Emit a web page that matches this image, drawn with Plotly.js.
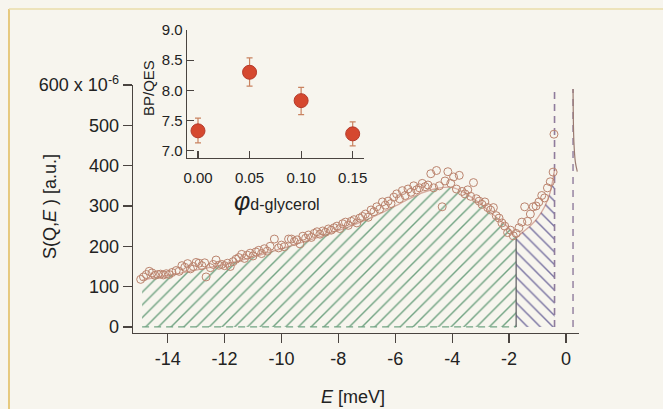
<!DOCTYPE html>
<html>
<head>
<meta charset="utf-8">
<script src="https://cdn.plot.ly/plotly-3.0.1.min.js"></script>
<style>
html,body{margin:0;padding:0;background:#f7f5ee;}
#chart{width:663px;height:409px;}
</style>
</head>
<body>
<div id="chart"></div>
<script>
// ---- main panel: measured S(Q,E) points ----
const dataE = [-14.95,-14.85,-14.75,-14.65,-14.55,-14.45,-14.35,-14.25,-14.15,-14.05,-13.95,-13.85,-13.7,-13.6,-13.5,-13.4,-13.3,-13.2,-13.1,-13.0,-12.9,-12.8,-12.7,-12.65,-12.5,-12.4,-12.3,-12.2,-12.1,-12.0,-11.9,-11.8,-11.7,-11.6,-11.5,-11.4,-11.3,-11.2,-11.1,-11.0,-10.9,-10.8,-10.7,-10.6,-10.5,-10.4,-10.25,-10.1,-10.0,-9.9,-9.75,-9.65,-9.55,-9.45,-9.35,-9.25,-9.15,-9.05,-8.95,-8.85,-8.75,-8.65,-8.55,-8.45,-8.35,-8.25,-8.15,-8.05,-7.95,-7.85,-7.75,-7.65,-7.55,-7.45,-7.35,-7.25,-7.15,-7.05,-6.95,-6.85,-6.75,-6.65,-6.55,-6.45,-6.35,-6.25,-6.15,-6.05,-5.95,-5.85,-5.75,-5.65,-5.55,-5.45,-5.35,-5.25,-5.15,-5.05,-4.95,-4.85,-4.75,-4.65,-4.55,-4.45,-4.35,-4.25,-4.15,-4.05,-3.95,-3.85,-3.75,-3.65,-3.55,-3.45,-3.35,-3.25,-3.15,-3.05,-2.95,-2.85,-2.75,-2.65,-2.55,-2.45,-2.35,-2.25,-2.15,-2.05,-1.95,-1.85,-1.75,-1.65,-1.55,-1.45,-1.35,-1.25,-1.15,-1.05,-0.95,-0.85,-0.75,-0.65,-0.55,-0.45,-0.42];
const dataS = [118,124,130,138,134,128,130,131,129,132,130,135,140,138,152,148,157,144,150,160,158,152,159,124,147,155,166,153,155,152,158,150,162,168,172,180,170,178,183,176,186,190,182,194,188,200,218,196,203,199,218,218,212,216,206,225,220,228,222,232,236,230,238,235,243,240,246,250,244,256,260,252,262,266,258,270,274,280,272,290,286,298,292,310,302,312,306,322,330,318,338,326,342,334,350,340,345,356,348,352,380,345,388,350,298,362,385,356,372,342,376,336,330,340,324,358,318,312,304,310,296,290,296,276,270,258,250,234,240,226,232,246,260,298,262,280,298,300,310,326,320,345,360,384,478];

// ---- fitted curve (top of the hatched areas) ----
const fitGreenE = [-14.9,-14.5,-14,-13.5,-13,-12.5,-12,-11.5,-11,-10.5,-10,-9.5,-9,-8.5,-8,-7.5,-7,-6.5,-6,-5.5,-5,-4.5,-4,-3.5,-3,-2.5,-2,-1.75];
const fitGreenS = [116,122,128,134,141,148,155,164,173,184,194,205,216,227,239,252,266,282,300,318,334,344,346,330,305,275,245,223];
const fitBlueE = [-1.75,-1.5,-1.25,-1.0,-0.75,-0.55,-0.4];
const fitBlueS = [223,236,251,270,298,335,390];

// ---- elastic-line markers ----
const elasticLeftE = [-0.4,-0.4];
const elasticLeftS = [0,590];
const elasticRightE = [0.25,0.25];
const elasticRightS = [0,590];
const elasticTailE = [0.25,0.26,0.28,0.33,0.40];
const elasticTailS = [590,520,460,410,385];

// ---- inset data ----
const phiVals = [0.00,0.05,0.10,0.15];
const ratioVals = [7.33,8.30,7.83,7.28];
const errPlus = [0.21,0.24,0.22,0.20];
const errMinus = [0.20,0.23,0.23,0.20];

const mainYTicks = [0,100,200,300,400,500,600];
const mainYText = ['0','100','200','300','400','500','600 x 10<sup>-6</sup>'];
const mainXTicks = [-14,-12,-10,-8,-6,-4,-2,0];
const mainXText = ['-14','-12','-10','-8','-6','-4','-2','0'];
const insetXTicks = [0,0.05,0.10,0.15];
const insetXText = ['0.00','0.05','0.10','0.15'];
const insetYTicks = [7.0,7.5,8.0,8.5,9.0];
const insetYText = ['7.0','7.5','8.0','8.5','9.0'];

const FONT = 'Liberation Sans, Arial, sans-serif';
const axisCol = '#4a4440';

const traces = [
  { x: fitGreenE, y: fitGreenS, type:'scatter', mode:'lines', fill:'tozeroy',
    line:{color:'rgba(0,0,0,0)', width:0},
    fillcolor:'rgba(0,0,0,0)',
    fillpattern:{shape:'/', fgcolor:'#72a483', bgcolor:'rgba(0,0,0,0)', size:9, solidity:0.16},
    xaxis:'x', yaxis:'y', hoverinfo:'skip', showlegend:false },
  { x: fitBlueE, y: fitBlueS, type:'scatter', mode:'lines', fill:'tozeroy',
    line:{color:'rgba(0,0,0,0)', width:0},
    fillcolor:'rgba(0,0,0,0)',
    fillpattern:{shape:'\\', fgcolor:'#7a74a2', bgcolor:'rgba(0,0,0,0)', size:9, solidity:0.16},
    xaxis:'x', yaxis:'y', hoverinfo:'skip', showlegend:false },
  // dashed green baseline
  { x:[fitGreenE[0], -1.75], y:[0,0], type:'scatter', mode:'lines',
    line:{color:'#72a483', width:1.2, dash:'7px,5px'}, xaxis:'x', yaxis:'y', showlegend:false },
  // solid boundary between regions
  { x:[-1.75,-1.75], y:[0,223], type:'scatter', mode:'lines',
    line:{color:'#5a5a60', width:1.2}, xaxis:'x', yaxis:'y', showlegend:false },
  // left elastic dashed line
  { x: elasticLeftE, y: elasticLeftS, type:'scatter', mode:'lines',
    line:{color:'#8f7c9c', width:1.6, dash:'7px,5px'}, xaxis:'x', yaxis:'y', showlegend:false },
  // right elastic dashed line
  { x: elasticRightE, y: elasticRightS, type:'scatter', mode:'lines',
    line:{color:'#8f7c9c', width:1.4, dash:'7px,6px'}, xaxis:'x', yaxis:'y', showlegend:false },
  { x: elasticTailE, y: elasticTailS, type:'scatter', mode:'lines', line:{shape:'spline', color:'#9a7a70', width:1.2},
    xaxis:'x', yaxis:'y', showlegend:false },
  // fit line
  { x: fitGreenE.concat(fitBlueE.slice(1)), y: fitGreenS.concat(fitBlueS.slice(1)), type:'scatter', mode:'lines',
    line:{color:'rgba(175,85,65,0.45)', width:1.4, shape:'spline'}, xaxis:'x', yaxis:'y', showlegend:false },
  // data points
  { x: dataE, y: dataS, type:'scatter', mode:'markers',
    marker:{symbol:'circle-open', size:8, color:'#bb846e', line:{width:1, color:'#bb846e'}},
    xaxis:'x', yaxis:'y', showlegend:false },
  // inset
  { x: phiVals, y: ratioVals, type:'scatter', mode:'markers',
    error_y:{type:'data', symmetric:false, array:errPlus, arrayminus:errMinus, color:'#c98360', thickness:1.2, width:3},
    marker:{size:14, color:'#d5482f', line:{width:1, color:'#b5392a'}},
    xaxis:'x2', yaxis:'y2', showlegend:false }
];

const px2x = p => (p-133)/446;
const px2y = p => (333-p)/313;

const layout = {
  width:663, height:409,
  margin:{l:133, r:84, t:20, b:76},
  paper_bgcolor:'#f7f5ee', plot_bgcolor:'rgba(0,0,0,0)',
  font:{family:FONT, color:'#222', size:17},
  showlegend:false,
  xaxis:{domain:[0,1], anchor:'y', range:[-15.22,0.46], tickvals:mainXTicks, ticktext:mainXText,
    ticks:'outside', ticklen:9, tickwidth:1.2, tickcolor:axisCol, showline:true, linecolor:axisCol, linewidth:1.3,
    showgrid:false, zeroline:false, tickfont:{size:18, family:FONT, color:'#222'}},
  yaxis:{domain:[0,0.7923], anchor:'x', range:[-15,600], tickvals:mainYTicks, ticktext:mainYText,
    ticks:'outside', ticklen:9, tickwidth:1.2, tickcolor:axisCol, showline:true, linecolor:axisCol, linewidth:1.3,
    showgrid:false, zeroline:false, tickfont:{size:18, family:FONT, color:'#222'}},
  xaxis2:{domain:[0.121,0.518], anchor:'y2', range:[-0.0107,0.161], tickvals:insetXTicks, ticktext:insetXText,
    ticks:'inside', ticklen:7, tickwidth:1.1, tickcolor:axisCol, showline:true, linecolor:axisCol, linewidth:1.3,
    showgrid:false, zeroline:false, tickfont:{size:15, family:FONT, color:'#222'}, ticklabelstandoff:6},
  yaxis2:{domain:[0.5591,0.968], anchor:'x2', range:[6.88,9.0], tickvals:insetYTicks, ticktext:insetYText,
    ticks:'inside', ticklen:7, tickwidth:1.1, tickcolor:axisCol, showline:true, linecolor:axisCol, linewidth:1.3,
    showgrid:false, zeroline:false, tickfont:{size:15, family:FONT, color:'#222'}},
  annotations:[
    {text:'S(Q,<i>E</i> ) [a.u.]', xref:'paper', yref:'paper', x:px2x(50), y:px2y(207), textangle:-90,
     showarrow:false, xanchor:'center', yanchor:'middle', font:{size:18, family:FONT, color:'#222'}},
    {text:'<i>E</i> [meV]', xref:'paper', yref:'paper', x:px2x(353), y:px2y(397),
     showarrow:false, xanchor:'center', yanchor:'middle', font:{size:18, family:FONT, color:'#222'}},
    {text:'BP/QES', xref:'paper', yref:'paper', x:px2x(148), y:px2y(88), textangle:-90,
     showarrow:false, xanchor:'center', yanchor:'middle', font:{size:15, family:FONT, color:'#222'}},
    {text:'<span style="font-size:25px"><i>φ</i></span>d-glycerol', xref:'paper', yref:'paper', x:px2x(277), y:px2y(201),
     showarrow:false, xanchor:'center', yanchor:'middle', font:{size:16, family:FONT, color:'#222'}}
  ],
  shapes:[
    {type:'line', xref:'paper', yref:'paper', x0:px2x(9), x1:px2x(9), y0:px2y(9), y1:px2y(409), line:{color:'#e2bf62', width:1.6}},
    {type:'line', xref:'paper', yref:'paper', x0:px2x(9), x1:px2x(663), y0:px2y(9), y1:px2y(9), line:{color:'#eadcaa', width:1.4}}
  ]
};

Plotly.newPlot('chart', traces, layout, {staticPlot:true, displayModeBar:false});
</script>
</body>
</html>
